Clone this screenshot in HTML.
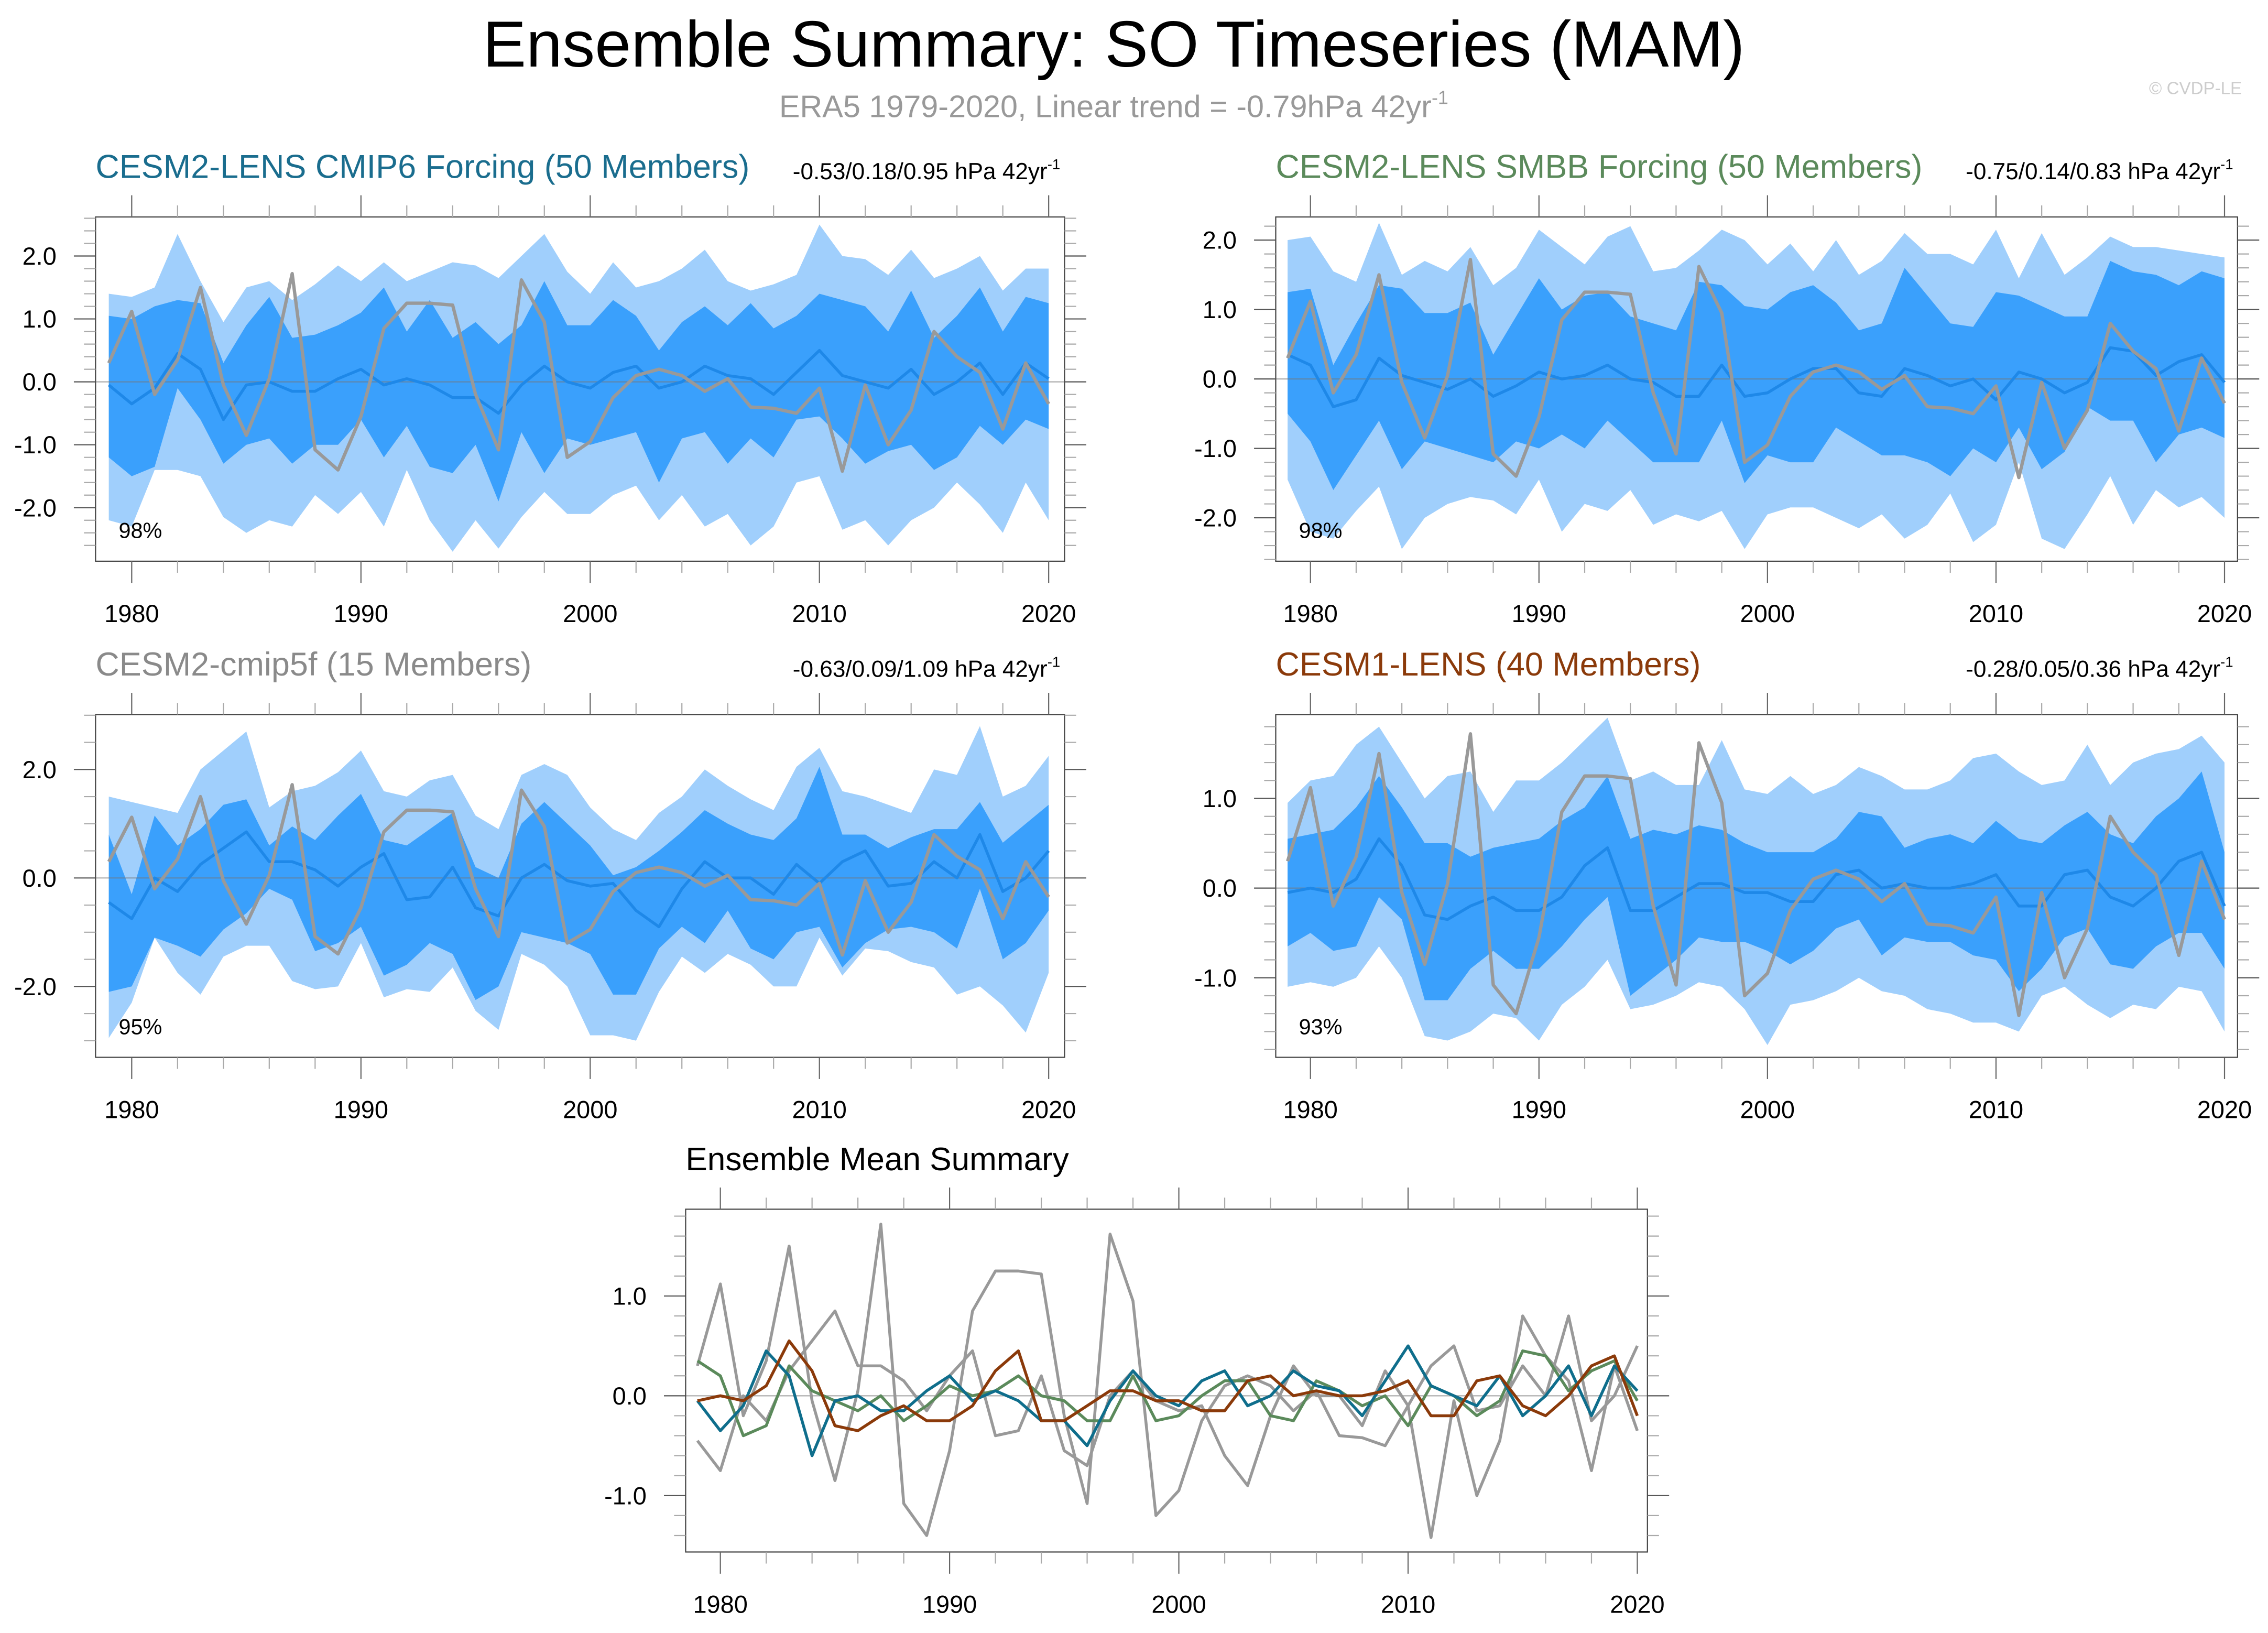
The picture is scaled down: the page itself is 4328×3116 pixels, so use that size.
<!DOCTYPE html>
<html><head><meta charset="utf-8"><style>
html,body{margin:0;padding:0;background:#fff}
svg{display:block}
text{font-family:"Liberation Sans",sans-serif}
</style></head><body>
<svg id="chart" width="4328" height="3116" viewBox="0 0 1568 1129" xmlns="http://www.w3.org/2000/svg">
<rect width="1568" height="1129" fill="#fff"/>
<text x="770" y="46" font-size="45" text-anchor="middle" fill="#000">Ensemble Summary: SO Timeseries (MAM)</text>
<text x="770" y="81" font-size="21.5" text-anchor="middle" fill="#999">ERA5 1979-2020, Linear trend = -0.79hPa 42yr<tspan font-size="13" dy="-9">-1</tspan></text>
<text x="1550" y="65" font-size="12" text-anchor="end" fill="#ccc">© CVDP-LE</text>
</svg>
<script>
const years=[];for(let y=1979;y<=2020;y++)years.push(y);
const era5=[0.3,1.12,-0.2,0.35,1.5,-0.05,-0.85,0.05,1.72,-1.08,-1.4,-0.55,0.85,1.25,1.25,1.22,-0.2,-1.08,1.62,0.95,-1.2,-0.95,-0.25,0.1,0.2,0.1,-0.15,0.05,-0.4,-0.42,-0.5,-0.1,-1.42,-0.05,-1.0,-0.45,0.8,0.4,0.15,-0.75,0.3,-0.35];

const p1Mean=[-0.05,-0.35,-0.1,0.45,0.2,-0.6,-0.05,0.0,-0.15,-0.15,0.05,0.2,-0.05,0.05,-0.05,-0.25,-0.25,-0.5,-0.05,0.25,0.0,-0.1,0.15,0.25,-0.1,0.0,0.25,0.1,0.05,-0.2,0.15,0.5,0.1,0.0,-0.1,0.2,-0.2,0.0,0.3,-0.2,0.3,0.05];
const p1InHi=[1.05,1.0,1.2,1.3,1.25,0.3,0.9,1.35,0.7,0.75,0.9,1.1,1.5,0.8,1.3,0.7,0.95,0.6,0.9,1.6,0.9,0.9,1.3,1.05,0.5,0.95,1.2,0.9,1.25,0.85,1.05,1.4,1.3,1.2,0.8,1.45,0.7,1.05,1.5,0.8,1.35,1.25];
const p1InLo=[-1.2,-1.5,-1.35,-0.1,-0.6,-1.3,-1.0,-0.9,-1.3,-1.0,-1.0,-0.6,-1.2,-0.7,-1.35,-1.45,-1.0,-1.9,-0.8,-1.45,-0.9,-1.0,-0.9,-0.8,-1.6,-0.9,-0.8,-1.3,-0.9,-1.2,-0.6,-0.55,-0.9,-1.3,-1.1,-1.0,-1.4,-1.2,-0.7,-1.0,-0.6,-0.75];
const p1OutHi=[1.4,1.35,1.5,2.35,1.6,0.95,1.5,1.6,1.3,1.55,1.85,1.6,1.9,1.6,1.75,1.9,1.85,1.65,2.0,2.35,1.75,1.4,1.9,1.5,1.6,1.8,2.1,1.6,1.45,1.55,1.7,2.5,2.0,1.95,1.7,2.1,1.65,1.8,2.0,1.45,1.8,1.8];
const p1OutLo=[-2.2,-2.3,-1.4,-1.4,-1.5,-2.15,-2.4,-2.2,-2.3,-1.8,-2.1,-1.75,-2.3,-1.4,-2.2,-2.7,-2.2,-2.65,-2.15,-1.75,-2.1,-2.1,-1.8,-1.65,-2.2,-1.8,-2.3,-2.1,-2.6,-2.3,-1.6,-1.5,-2.35,-2.2,-2.6,-2.2,-2.0,-1.6,-1.95,-2.4,-1.6,-2.2];

const p2Mean=[0.35,0.2,-0.4,-0.3,0.3,0.05,-0.05,-0.15,0.0,-0.25,-0.1,0.1,0.0,0.05,0.2,0.0,-0.05,-0.25,-0.25,0.2,-0.25,-0.2,0.0,0.15,0.15,-0.2,-0.25,0.15,0.05,-0.1,0.0,-0.3,0.1,0.0,-0.2,-0.05,0.45,0.4,0.05,0.25,0.35,-0.05];
const p2InHi=[1.25,1.3,0.2,0.8,1.35,1.3,0.95,0.95,1.1,0.35,0.9,1.45,1.0,1.2,1.25,0.9,0.8,0.7,1.4,1.35,1.05,1.0,1.25,1.35,1.1,0.7,0.8,1.6,1.2,0.8,0.75,1.25,1.2,1.05,0.9,0.9,1.7,1.55,1.5,1.35,1.55,1.45];
const p2InLo=[-0.5,-0.9,-1.6,-1.1,-0.6,-1.3,-0.9,-1.0,-1.1,-1.2,-0.9,-1.0,-0.8,-1.0,-0.6,-0.9,-1.2,-1.2,-1.2,-0.6,-1.5,-1.1,-1.2,-1.2,-0.7,-0.9,-1.1,-1.1,-1.2,-1.4,-1.0,-1.2,-0.7,-1.3,-1.05,-0.4,-0.6,-0.6,-1.2,-0.8,-0.7,-0.85];
const p2OutHi=[2.0,2.05,1.55,1.4,2.25,1.5,1.7,1.55,1.9,1.35,1.6,2.15,1.9,1.65,2.05,2.2,1.55,1.6,1.85,2.15,2.0,1.65,1.95,1.55,2.0,1.5,1.7,2.1,1.8,1.8,1.65,2.15,1.45,2.1,1.5,1.75,2.05,1.9,1.9,1.85,1.8,1.75];
const p2OutLo=[-1.45,-2.2,-2.3,-1.9,-1.55,-2.45,-2.0,-1.8,-1.7,-1.75,-1.95,-1.45,-2.2,-1.8,-1.9,-1.6,-2.1,-1.95,-2.05,-1.9,-2.45,-1.95,-1.85,-1.85,-2.0,-2.15,-1.95,-2.3,-2.1,-1.65,-2.35,-2.1,-1.2,-2.3,-2.45,-1.95,-1.4,-2.1,-1.6,-1.85,-1.7,-2.0];

const p3Mean=[-0.45,-0.75,0.0,-0.25,0.25,0.55,0.85,0.3,0.3,0.15,-0.15,0.2,0.45,-0.4,-0.35,0.2,-0.55,-0.7,0.0,0.25,-0.05,-0.15,-0.1,-0.6,-0.9,-0.2,0.3,0.0,0.0,-0.3,0.25,-0.1,0.3,0.5,-0.15,-0.1,0.3,0.0,0.8,-0.25,0.0,0.5];
const p3InHi=[0.8,-0.3,1.15,0.6,0.9,1.35,1.45,0.6,0.95,0.7,1.15,1.55,0.7,0.6,0.9,1.2,0.2,0.0,1.0,1.4,1.0,0.6,0.05,0.2,0.5,0.85,1.25,1.0,0.8,0.7,1.1,2.05,0.8,0.8,0.55,0.75,0.9,0.9,1.4,0.65,1.0,1.35];
const p3InLo=[-2.1,-2.0,-1.1,-1.25,-1.45,-0.95,-0.65,-0.2,-0.4,-1.35,-1.2,-0.9,-1.8,-1.6,-1.2,-1.4,-2.25,-2.0,-1.0,-1.1,-1.2,-1.4,-2.15,-2.15,-1.3,-0.9,-1.2,-0.6,-1.3,-1.5,-1.0,-0.9,-1.65,-1.2,-0.95,-0.9,-1.0,-1.3,-0.2,-1.5,-1.2,-0.6];
const p3OutHi=[1.5,1.4,1.3,1.2,2.0,2.35,2.7,1.3,1.6,1.7,1.95,2.35,1.6,1.5,1.8,1.9,1.15,0.9,1.9,2.1,1.9,1.3,0.9,0.7,1.2,1.5,2.0,1.7,1.45,1.25,2.05,2.4,1.6,1.5,1.35,1.2,2.0,1.9,2.8,1.5,1.7,2.25];
const p3OutLo=[-2.95,-2.3,-1.1,-1.75,-2.15,-1.45,-1.25,-1.25,-1.9,-2.05,-2.0,-1.2,-2.2,-2.05,-2.1,-1.65,-2.45,-2.8,-1.4,-1.6,-2.0,-2.9,-2.9,-3.0,-2.1,-1.45,-1.75,-1.4,-1.6,-2.0,-2.0,-1.1,-1.8,-1.3,-1.35,-1.55,-1.65,-2.15,-2.0,-2.35,-2.85,-1.75];

const p4Mean=[-0.05,0.0,-0.05,0.1,0.55,0.25,-0.3,-0.35,-0.2,-0.1,-0.25,-0.25,-0.1,0.25,0.45,-0.25,-0.25,-0.1,0.05,0.05,-0.05,-0.05,-0.15,-0.15,0.15,0.2,0.0,0.05,0.0,0.0,0.05,0.15,-0.2,-0.2,0.15,0.2,-0.1,-0.2,0.0,0.3,0.4,-0.2];
const p4InHi=[0.55,0.6,0.65,0.9,1.25,0.9,0.5,0.5,0.35,0.45,0.5,0.55,0.75,0.9,1.25,0.55,0.65,0.6,0.7,0.65,0.5,0.4,0.4,0.4,0.55,0.85,0.8,0.45,0.55,0.6,0.5,0.75,0.55,0.5,0.7,0.85,0.6,0.5,0.8,1.0,1.3,0.4];
const p4InLo=[-0.65,-0.5,-0.7,-0.65,-0.1,-0.35,-1.25,-1.25,-0.9,-0.7,-0.9,-0.9,-0.65,-0.35,-0.1,-1.2,-1.0,-0.8,-0.55,-0.6,-0.6,-0.7,-0.85,-0.7,-0.45,-0.35,-0.75,-0.55,-0.6,-0.6,-0.75,-0.8,-1.15,-0.9,-0.55,-0.45,-0.85,-0.9,-0.65,-0.5,-0.5,-0.9];
const p4OutHi=[0.95,1.2,1.25,1.6,1.8,1.4,1.0,1.25,1.3,0.85,1.2,1.2,1.4,1.65,1.9,1.2,1.3,1.15,1.15,1.65,1.1,1.05,1.25,1.05,1.15,1.35,1.25,1.1,1.1,1.2,1.45,1.5,1.3,1.15,1.2,1.6,1.15,1.4,1.5,1.55,1.7,1.4];
const p4OutLo=[-1.1,-1.05,-1.1,-1.0,-0.65,-1.0,-1.65,-1.7,-1.6,-1.4,-1.45,-1.7,-1.3,-1.1,-0.8,-1.35,-1.3,-1.2,-1.05,-1.1,-1.35,-1.75,-1.3,-1.25,-1.15,-1.0,-1.15,-1.2,-1.35,-1.4,-1.5,-1.5,-1.6,-1.2,-1.1,-1.3,-1.45,-1.3,-1.35,-1.1,-1.15,-1.6];

const xTickYears=[1980,1990,2000,2010,2020];
const svg=document.getElementById('chart');
const NS='http://www.w3.org/2000/svg';
function el(tag,attrs,parent){const e=document.createElementNS(NS,tag);for(const k in attrs)e.setAttribute(k,attrs[k]);(parent||svg).appendChild(e);return e;}

function drawPanel(cfg){
  const g=el('g',{});
  
  
  const X=y=>cfg.x1980+(y-1980)*(cfg.x2020-cfg.x1980)/40;
  const Y=v=>cfg.y0-v*cfg.ppu;
  if(cfg.bands){
    for(const [hi,lo,col,nm] of cfg.bands){
      let d='M'+years.map((yr,i)=>X(yr)+','+Y(hi[i])).join('L')+'L'+years.slice().reverse().map((yr,j)=>X(yr)+','+Y(lo[years.length-1-j])).join('L')+'Z';
      const p=el('path',{d:d,fill:col,stroke:'none'},g);
      
      
    }
  }
  const z=el('line',{x1:cfg.bx1,x2:cfg.bx2,y1:Y(0),y2:Y(0),stroke:'#777','stroke-opacity':0.6,'stroke-width':0.8},g);
  
  
  for(const [arr,col,w,nm] of cfg.lines){
    const l=el('polyline',{points:years.map((yr,i)=>X(yr)+','+Y(arr[i])).join(' '),fill:'none',stroke:col,'stroke-width':w,'stroke-linejoin':'round'},g);
    
    
  }
  const fr=el('rect',{x:cfg.bx1,y:cfg.by1,width:cfg.bx2-cfg.bx1,height:cfg.by2-cfg.by1,fill:'none',stroke:'#444','stroke-width':0.8},g);
  
  
  // x ticks (outward)
  for(let yr=1980; yr<=2020; yr+=2){
    const major=yr%10===0, len=major?15:8, col=major?'#666':'#aaa';
    el('line',{x1:X(yr),x2:X(yr),y1:cfg.by2,y2:cfg.by2+len,stroke:col,'stroke-width':0.8},g);
    el('line',{x1:X(yr),x2:X(yr),y1:cfg.by1,y2:cfg.by1-len,stroke:col,'stroke-width':0.8},g);
  }
  for(const yr of xTickYears){
    const t=el('text',{x:X(yr),y:cfg.by2+42,'font-size':17,'text-anchor':'middle'},g);
    t.textContent=yr;
    
    
  }
  // y ticks (outward)
  const mn=cfg.yMin, mx=cfg.yMax;
  for(let v=Math.ceil(mn/cfg.minor)*cfg.minor; v<=mx+1e-9; v+=cfg.minor){
    const yy=Y(v); if(yy<cfg.by1-0.5||yy>cfg.by2+0.5)continue;
    const isMaj=Math.abs(v/cfg.major-Math.round(v/cfg.major))<1e-6, len=isMaj?15:8, col=isMaj?'#555':'#aaa';
    el('line',{x1:cfg.bx1,x2:cfg.bx1-len,y1:yy,y2:yy,stroke:col,'stroke-width':0.8},g);
    el('line',{x1:cfg.bx2,x2:cfg.bx2+len,y1:yy,y2:yy,stroke:col,'stroke-width':0.8},g);
    if(isMaj){
      const t=el('text',{x:cfg.bx1-27,y:yy+6,'font-size':17,'text-anchor':'end'},g);
      t.textContent=(Math.abs(v)<1e-9?0:v).toFixed(1);
      
      
    }
  }
  const tt=el('text',{x:cfg.bx1,y:cfg.by1-27,'font-size':cfg.titleSize||22.8,fill:cfg.titleColor,'text-anchor':'start'},g);
  tt.textContent=cfg.title;
  
  
  if(cfg.trend){
    const tr=el('text',{x:cfg.bx2-3,y:cfg.by1-26,'font-size':16,'text-anchor':'end'},g);
    tr.innerHTML=cfg.trend+'<tspan font-size="10" dy="-7">-1</tspan>';
    
    
  }
  if(cfg.pct){
    const pc=el('text',{x:cfg.bx1+16,y:cfg.by2-16,'font-size':15},g);
    pc.textContent=cfg.pct;
    
    
  }
}
const OUT='#a0cffc', IN='#3aa0fc', MEAN='#1e88e8', ERA='#999999';
drawPanel({name:'panel-cesm2-cmip6',bx1:66,bx2:736,by1:150,by2:388,x1980:91,x2020:725,y0:264,ppu:43.5,yMin:-2.8,yMax:2.8,major:1,minor:0.2,
  title:'CESM2-LENS CMIP6 Forcing (50 Members)',titleColor:'#1a6d8e',trend:'-0.53/0.18/0.95 hPa 42yr',pct:'98%',
  bands:[[p1OutHi,p1OutLo,OUT,'outer-band'],[p1InHi,p1InLo,IN,'inner-band']],lines:[[p1Mean,MEAN,2,'ensemble-mean-line'],[era5,ERA,2.3,'era5-line']]});
drawPanel({name:'panel-cesm2-smbb',bx1:882,bx2:1547,by1:150,by2:388,x1980:906,x2020:1538,y0:262,ppu:48,yMin:-2.6,yMax:2.6,major:1,minor:0.2,
  title:'CESM2-LENS SMBB Forcing (50 Members)',titleColor:'#5b8a5b',trend:'-0.75/0.14/0.83 hPa 42yr',pct:'98%',
  bands:[[p2OutHi,p2OutLo,OUT,'outer-band'],[p2InHi,p2InLo,IN,'inner-band']],lines:[[p2Mean,MEAN,2,'ensemble-mean-line'],[era5,ERA,2.3,'era5-line']]});
drawPanel({name:'panel-cesm2-cmip5f',bx1:66,bx2:736,by1:494,by2:731,x1980:91,x2020:725,y0:607,ppu:37.5,yMin:-3.2,yMax:3.2,major:2,minor:0.5,
  title:'CESM2-cmip5f (15 Members)',titleColor:'#8a8a8a',trend:'-0.63/0.09/1.09 hPa 42yr',pct:'95%',
  bands:[[p3OutHi,p3OutLo,OUT,'outer-band'],[p3InHi,p3InLo,IN,'inner-band']],lines:[[p3Mean,MEAN,2,'ensemble-mean-line'],[era5,ERA,2.3,'era5-line']]});
drawPanel({name:'panel-cesm1-lens',bx1:882,bx2:1547,by1:494,by2:731,x1980:906,x2020:1538,y0:614,ppu:62,yMin:-2,yMax:2,major:1,minor:0.2,
  title:'CESM1-LENS (40 Members)',titleColor:'#8b3a0a',trend:'-0.28/0.05/0.36 hPa 42yr',pct:'93%',
  bands:[[p4OutHi,p4OutLo,OUT,'outer-band'],[p4InHi,p4InLo,IN,'inner-band']],lines:[[p4Mean,MEAN,2,'ensemble-mean-line'],[era5,ERA,2.3,'era5-line']]});
drawPanel({name:'panel-ensemble-mean-summary',bx1:474,bx2:1139,by1:836,by2:1073,x1980:498,x2020:1132,y0:965,ppu:69,yMin:-1.8,yMax:1.8,major:1,minor:0.2,
  title:'Ensemble Mean Summary',titleColor:'#000',titleSize:22.5,
  lines:[[era5,'#999',2,'era5-line'],[p3Mean,'#999',2,'cmip5f-mean-line'],[p2Mean,'#5b8a5b',2,'smbb-mean-line'],[p1Mean,'#0f6e8c',2,'cmip6-mean-line'],[p4Mean,'#8b3a0a',2,'cesm1-mean-line']]});
</script>
</body></html>
